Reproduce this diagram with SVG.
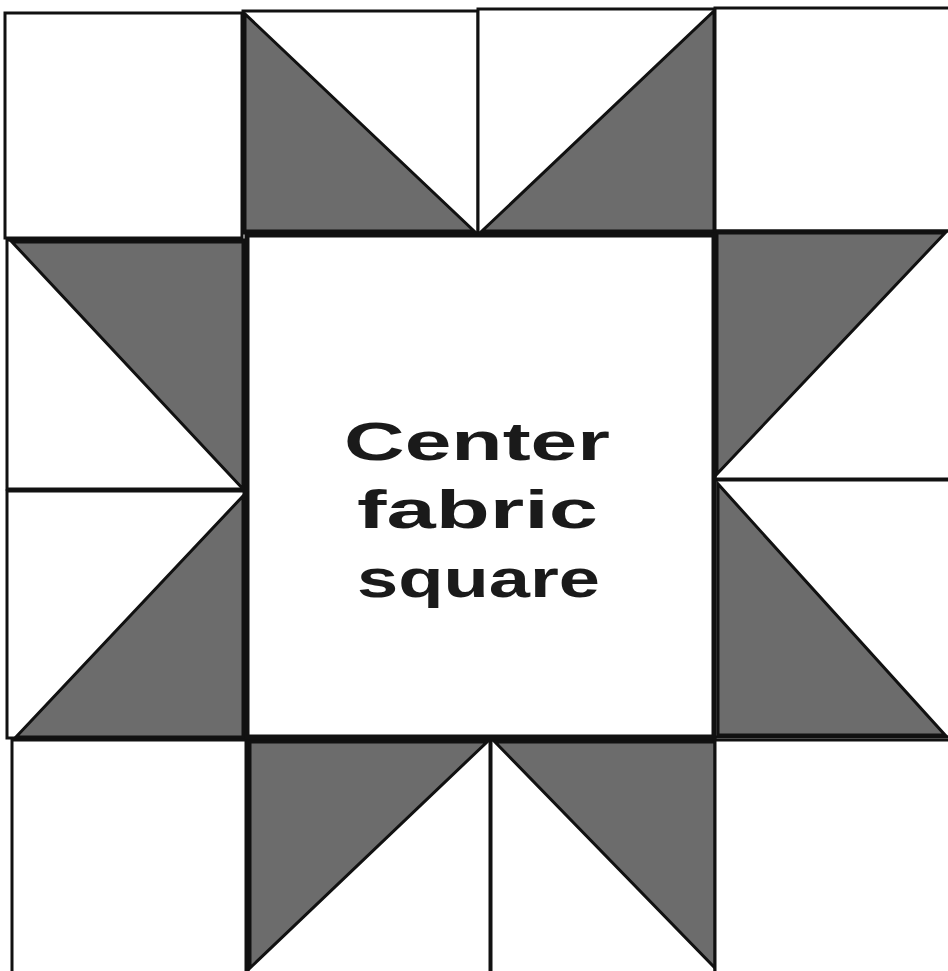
<svg xmlns="http://www.w3.org/2000/svg" width="948" height="971" viewBox="0 0 948 971">
<style>
.sq{fill:#fff;stroke:#111;stroke-width:3}
.tri{fill:#6c6c6c;stroke:#111;stroke-width:3;stroke-linejoin:miter}
.ctr{fill:#fff;stroke:#111;stroke-width:5}
.lbl{font-family:"Liberation Sans",Arial,sans-serif;font-weight:bold;font-size:54px;fill:#1a1a1a}
</style>
<rect width="948" height="971" fill="#fff"/>
<g id="tile-top-left"><rect class="sq" x="5" y="13" width="237" height="225"/></g>
<g id="tile-top-2"><rect class="sq" x="243" y="11" width="235" height="222"/><polygon class="tri" points="245,14 245,231 474,231"/></g>
<g id="tile-top-3"><rect class="sq" x="478" y="9" width="237" height="224"/><polygon class="tri" points="714,11 714,231 482,231"/></g>
<g id="tile-top-right"><rect class="sq" x="715" y="8" width="236" height="223"/></g>
<g id="tile-left-2"><rect class="sq" x="7" y="240" width="237" height="249"/><polygon class="tri" points="12,242 243,242 243,489"/></g>
<g id="tile-left-3"><rect class="sq" x="7" y="491" width="237" height="247"/><polygon class="tri" points="243,496 243,737 16,737"/></g>
<g id="tile-right-2"><rect class="sq" x="715" y="231" width="236" height="248"/><polygon class="tri" points="717,233 945,233 717,474"/></g>
<g id="tile-right-3"><rect class="sq" x="715" y="480" width="236" height="257"/><polygon class="tri" points="718,484 718,735 945,735"/></g>
<g id="tile-bottom-left"><rect class="sq" x="12" y="740" width="234" height="234"/></g>
<g id="tile-bottom-2"><rect class="sq" x="248" y="740" width="242" height="234"/><polygon class="tri" points="250,742 487,742 250,968"/></g>
<g id="tile-bottom-3"><rect class="sq" x="491" y="740" width="224" height="234"/><polygon class="tri" points="495,742 715,742 715,968"/></g>
<g id="tile-bottom-right"><rect class="sq" x="715" y="740" width="236" height="234"/></g>
<g id="center-square">
<rect class="ctr" x="247" y="235" width="467" height="502"/>
<text class="lbl" x="344" y="460" textLength="266" lengthAdjust="spacingAndGlyphs">Center</text>
<text class="lbl" x="357" y="528" textLength="241" lengthAdjust="spacingAndGlyphs">fabric</text>
<text class="lbl" x="357" y="597" textLength="243" lengthAdjust="spacingAndGlyphs">square</text>
</g>
</svg>
